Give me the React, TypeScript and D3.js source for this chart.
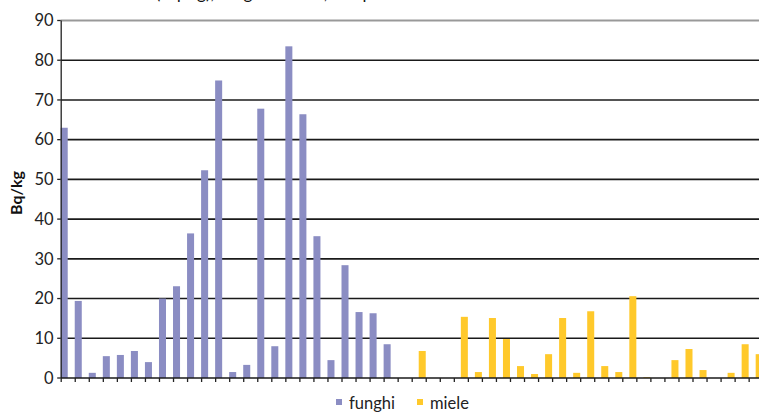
import React from "react";
import * as d3 from "d3";

// Cs-137 activity per sample (Bq/kg); null where the series has no sample
const funghi: (number | null)[] = [
  63, 19.4, 1.3, 5.5, 5.8, 6.8, 4.0, 20.0, 23.1, 36.4,
  52.3, 74.9, 1.5, 3.3, 67.8, 8.0, 83.5, 66.4, 35.7, 4.5,
  28.4, 16.6, 16.3, 8.5, null, null, null, null, null, null,
  null, null, null, null, null, null, null, null, null, null,
  null, null, null, null, null, null, null, null, null, null,
];
const miele: (number | null)[] = [
  null, null, null, null, null, null, null, null, null, null,
  null, null, null, null, null, null, null, null, null, null,
  null, null, null, null, null, 6.8, null, null, 15.4, 1.5,
  15.1, 9.8, 3.0, 1.0, 6.0, 15.1, 1.3, 16.8, 3.0, 1.5,
  20.6, 0.2, null, 4.5, 7.3, 2.0, null, 1.3, 8.5, 6.0,
];
const seriesNames = ["funghi", "miele"];
const seriesColors = ["#8b8dc3", "#ffc92b"];
const yTicks = [0, 10, 20, 30, 40, 50, 60, 70, 80, 90];
const yLabel = "Bq/kg";
const title = "Cs-137 (Bq/kg), funghi e miele, campioni 2008";

const W = 759;
const H = 412;
const FONT = "Lato, 'Open Sans', sans-serif";

export default function App() {
  const categories = d3.range(funghi.length).map(String);
  const x = d3.scaleBand<string>().domain(categories).range([60.7, 762.7]).padding(0);
  const xs = d3.scaleBand<string>().domain(seriesNames).range([0, x.bandwidth()]).padding(0);
  const y = d3.scaleLinear().domain([0, 90]).range([378, 20.5]);
  const series = [funghi, miele];
  const [x0, x1] = x.range();

  return (
    <svg
      width={W}
      height={H}
      style={{ position: "absolute", left: 0, top: 0, background: "#fff" }}
      fontFamily={FONT}
    >
      {/* chart title; its baseline sits at the top edge of the drawing */}
      <text x={270} y={-1} fontSize={17} textAnchor="middle" fill="#111">
        {title}
      </text>

      {/* horizontal gridlines */}
      {yTicks.map((t) =>
        t === 0 ? null : (
          <line
            key={"g" + t}
            x1={x0}
            x2={x1}
            y1={y(t)}
            y2={y(t)}
            stroke={t === 90 ? "#999" : "#1a1a1a"}
            strokeWidth={t === 90 ? 2 : 1.6}
          />
        )
      )}

      {/* bars */}
      {series.map((vals, si) =>
        vals.map((v, i) =>
          v == null ? null : (
            <rect
              key={si + "-" + i}
              x={(x(String(i)) as number) + (xs(seriesNames[si]) as number)}
              y={y(v)}
              width={xs.bandwidth()}
              height={y(0) - y(v)}
              fill={seriesColors[si]}
            />
          )
        )
      )}

      {/* y axis */}
      <line x1={x0 + 0.5} x2={x0 + 0.5} y1={y(90)} y2={y(0)} stroke="#222" strokeWidth={1.3} />
      {yTicks.map((t) => (
        <g key={"t" + t}>
          <line x1={x0 - 3.5} x2={x0} y1={y(t)} y2={y(t)} stroke="#222" strokeWidth={1.3} />
          <text
            x={x0 - 7}
            y={y(t)}
            dy="0.35em"
            fontSize={16.5}
            textAnchor="end"
            fill="#222"
          >
            {t}
          </text>
        </g>
      ))}

      {/* x axis */}
      <line x1={x0} x2={x1} y1={y(0)} y2={y(0)} stroke="#1a1a1a" strokeWidth={1.6} />
      {categories.map((c) => (
        <line
          key={"xt" + c}
          x1={(x(c) as number) + 0.5}
          x2={(x(c) as number) + 0.5}
          y1={y(0)}
          y2={y(0) + 4}
          stroke="#222"
          strokeWidth={1.3}
        />
      ))}

      {/* y axis title */}
      <text
        transform={`translate(22, 193) rotate(-90)`}
        fontSize={16}
        fontWeight="bold"
        textAnchor="middle"
        fill="#111"
      >
        {yLabel}
      </text>

      {/* legend */}
      {seriesNames.map((name, i) => {
        const lx = i === 0 ? 336 : 417;
        return (
          <g key={"l" + name}>
            <rect x={lx} y={399} width={6} height={6} fill={seriesColors[i]} />
            <text x={lx + 13} y={409} fontSize={16.5} fill="#222">
              {name}
            </text>
          </g>
        );
      })}
    </svg>
  );
}
